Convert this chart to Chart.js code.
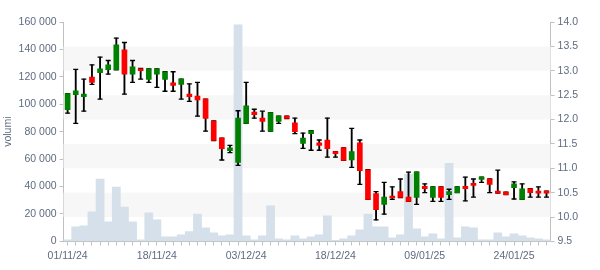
<!DOCTYPE html>
<html>
<head>
<meta charset="utf-8">
<script src="https://cdn.jsdelivr.net/npm/chart.js@4.4.1/dist/chart.umd.min.js"></script>
<style>
  html, body { margin: 0; padding: 0; background: #fff; }
</style>
</head>
<body>
<canvas id="chartCanvas" width="600" height="270"></canvas>
<script>
// trading days
var dates = [
    "01/11/24","04/11/24","05/11/24","06/11/24","07/11/24","08/11/24","11/11/24","12/11/24","13/11/24","14/11/24",
    "15/11/24","18/11/24","19/11/24","20/11/24","21/11/24","22/11/24","25/11/24","26/11/24","27/11/24","28/11/24",
    "29/11/24","02/12/24","03/12/24","04/12/24","05/12/24","06/12/24","09/12/24","10/12/24","11/12/24","12/12/24",
    "13/12/24","16/12/24","17/12/24","18/12/24","19/12/24","20/12/24","23/12/24","27/12/24","30/12/24","02/01/25",
    "03/01/25","06/01/25","07/01/25","08/01/25","09/01/25","10/01/25","13/01/25","14/01/25","15/01/25","16/01/25",
    "17/01/25","20/01/25","21/01/25","22/01/25","23/01/25","24/01/25","27/01/25","28/01/25","29/01/25","30/01/25"
];

var opens = [
    12.20,12.51,12.47,12.87,12.96,13.02,13.02,13.43,12.93,13.04,
    12.82,12.93,12.82,12.75,12.72,12.52,12.48,12.42,11.97,11.62,
    11.36,11.12,11.92,12.15,12.03,11.76,11.96,12.07,11.93,11.51,
    11.71,11.52,11.58,11.34,11.42,11.17,11.52,10.97,10.48,10.26,
    10.43,10.52,10.41,10.40,10.63,10.40,10.62,10.46,10.50,10.63,
    10.69,10.77,10.78,10.53,10.51,10.60,10.36,10.58,10.53,10.53
];
var highs = [
    12.53,13.03,12.83,13.12,13.28,13.21,13.67,13.58,13.21,13.05,
    13.04,13.04,12.98,12.98,12.83,12.73,12.76,12.42,11.97,11.62,
    11.47,12.18,12.76,12.21,12.17,12.14,12.07,12.07,12.03,11.72,
    11.77,11.58,12.03,11.34,11.42,11.82,11.58,10.97,10.52,10.71,
    10.62,10.78,10.92,10.92,10.68,10.62,10.62,10.57,10.62,10.82,
    10.78,10.82,10.78,10.96,10.51,10.72,10.68,10.58,10.62,10.53
];
var lows = [
    12.13,11.92,12.17,12.72,12.42,12.93,13.02,12.52,12.76,12.83,
    12.76,12.66,12.58,12.58,12.42,12.37,12.07,11.76,11.57,11.17,
    11.32,11.06,11.92,12.03,11.76,11.76,11.92,12.02,11.71,11.41,
    11.37,11.37,11.23,11.23,11.16,11.02,10.67,10.36,9.94,10.06,
    10.36,10.40,10.32,10.26,10.50,10.32,10.32,10.36,10.50,10.33,
    10.41,10.71,10.50,10.49,10.46,10.37,10.36,10.41,10.41,10.41
];
var closes = [
    12.53,12.59,12.52,12.76,13.04,13.12,13.53,12.93,13.08,13.00,
    13.04,13.04,12.98,12.70,12.83,12.47,12.40,12.02,11.57,11.40,
    11.42,12.03,12.28,12.10,11.96,12.14,12.07,12.02,11.75,11.62,
    11.77,11.47,11.40,11.30,11.16,11.34,10.95,10.36,10.15,10.41,
    10.39,10.40,10.32,10.92,10.58,10.62,10.40,10.52,10.62,10.58,
    10.65,10.82,10.67,10.49,10.46,10.68,10.58,10.50,10.49,10.49
];
var volumes = [
    1200,10600,11300,21500,45500,14200,39700,25100,14200,1200,
    20800,15700,3300,3300,4800,7200,20000,9900,6200,4000,
    4800,158000,4000,1200,4000,25900,1900,1200,4000,1900,
    3300,4800,18600,700,1900,4000,8500,20000,10600,10600,
    2600,4800,49000,9200,3300,5500,1900,57000,2600,10600,
    9900,1200,1200,6200,3300,5500,4000,2600,1900,1200
];

var textColor = "#5f6b80";
var axisColor = "#c0c0c0";
var tickFont = { family: "'Liberation Sans', Arial, sans-serif", size: 10.5 };

var wickData = [];
var bodyData = [];
var bodyColors = [];
for (var i = 0; i < dates.length; i++) {
    wickData.push([lows[i], highs[i]]);
    bodyData.push([opens[i], closes[i]]);
    bodyColors.push(closes[i] >= opens[i] ? "#008000" : "#ff0000");
}

function spaced(v) {
    return String(v).replace(/\B(?=(\d{3})+(?!\d))/g, " ");
}

// alternating bands on the price axis
var bandsPlugin = {
    id: "bands",
    beforeDatasetsDraw: function (chart) {
        var ctx = chart.ctx;
        var area = chart.chartArea;
        var sc = chart.scales.y1;
        ctx.save();
        ctx.fillStyle = "#f7f7f7";
        [10, 11, 12, 13].forEach(function (b) {
            var top = sc.getPixelForValue(b + 0.5);
            var bot = sc.getPixelForValue(b);
            ctx.fillRect(area.left, top, area.right - area.left, bot - top);
        });
        ctx.restore();
    }
};

var config = {
    data: {
        labels: dates,
        datasets: [{
            type: "bar",
            label: "volumi",
            yAxisID: "y",
            data: volumes,
            backgroundColor: "#d6e0ea",
            barPercentage: 1,
            categoryPercentage: 1,
            grouped: false,
            order: 4
        }, {
            type: "bar",
            label: "wick",
            yAxisID: "y1",
            data: wickData,
            backgroundColor: "#000000",
            barThickness: 1.2,
            grouped: false,
            order: 3
        }, {
            type: "line",
            label: "high",
            yAxisID: "y1",
            data: highs,
            showLine: false,
            pointStyle: "line",
            pointRadius: 2.5,
            pointBorderWidth: 1.3,
            pointBorderColor: "#000000",
            order: 2
        }, {
            type: "line",
            label: "low",
            yAxisID: "y1",
            data: lows,
            showLine: false,
            pointStyle: "line",
            pointRadius: 2.5,
            pointBorderWidth: 1.3,
            pointBorderColor: "#000000",
            order: 2
        }, {
            type: "bar",
            label: "body",
            yAxisID: "y1",
            data: bodyData,
            backgroundColor: bodyColors,
            barThickness: 5,
            grouped: false,
            order: 1
        }]
    },
    options: {
        responsive: false,
        animation: false,
        layout: { padding: { top: 22, right: 19, left: 1, bottom: 4 } },
        plugins: {
            legend: { display: false },
            tooltip: { enabled: false }
        },
        scales: {
            x: {
                type: "category",
                offset: true,
                grid: { drawOnChartArea: false, offset: false, color: axisColor, tickLength: 4 },
                border: { color: axisColor },
                ticks: {
                    autoSkip: false,
                    maxRotation: 0,
                    color: textColor,
                    font: tickFont,
                    padding: 4,
                    callback: function (v, i) { return i % 11 === 0 ? dates[i] : ""; }
                }
            },
            y: {
                position: "left",
                min: 0,
                max: 160000,
                grid: { drawOnChartArea: false, color: axisColor, tickLength: 4 },
                border: { color: axisColor },
                title: { display: true, text: "volumi", color: textColor, font: tickFont, padding: 1 },
                ticks: {
                    stepSize: 20000,
                    color: textColor,
                    font: tickFont,
                    padding: 3,
                    callback: function (v) { return spaced(v); }
                }
            },
            y1: {
                position: "right",
                min: 9.5,
                max: 14,
                grid: { drawOnChartArea: false, color: axisColor, tickLength: 4 },
                border: { color: axisColor },
                ticks: {
                    stepSize: 0.5,
                    color: textColor,
                    font: tickFont,
                    padding: 3
                }
            }
        }
    },
    plugins: [bandsPlugin]
};

new Chart(document.getElementById("chartCanvas"), config);
</script>
</body>
</html>
